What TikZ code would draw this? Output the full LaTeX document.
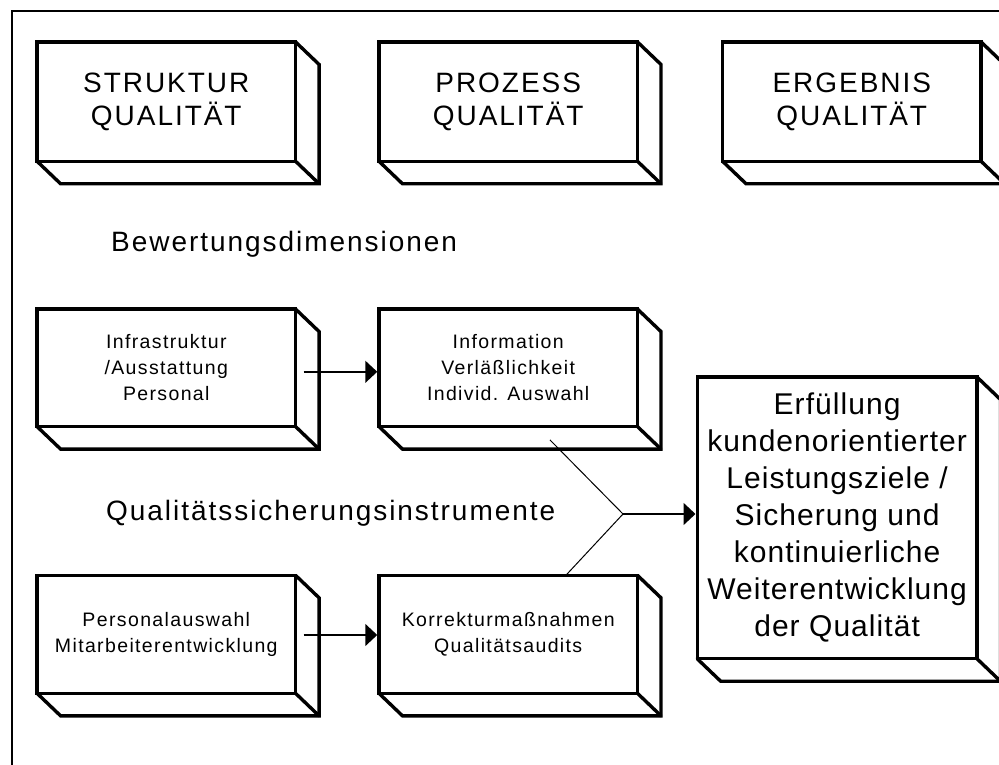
\documentclass[tikz,border=0pt]{standalone}
\usepackage{fontspec}
\setmainfont{Liberation Sans}
\newfontfamily\headfont[LetterSpace=7]{Liberation Sans}
\newfontfamily\goalfont[LetterSpace=3.5]{Liberation Sans}
\newfontfamily\cellfont[LetterSpace=7]{Liberation Sans}
\usetikzlibrary{arrows.meta,calc}

\tikzset{
  frameline/.style={line width=2.4pt, line cap=rect},
  face/.style={draw, line width=3.4pt, line join=miter, inner sep=0pt, outer sep=0pt,
    align=center, fill=white},
  edge/.style={line width=3.4pt, line join=miter, line cap=round},
  topbox/.style={face, minimum width=258.5pt, minimum height=119.3pt,
    font=\headfont\fontsize{28}{33}\selectfont},
  cellbox/.style={face, minimum width=258.5pt, minimum height=117.5pt,
    font=\cellfont\fontsize{19.5}{26}\selectfont},
  goalbox/.style={face, minimum width=279.8pt, minimum height=281.7pt,
    font=\goalfont\fontsize{30}{37}\selectfont},
  heading/.style={anchor=base west, inner sep=0pt,
    font=\headfont\fontsize{28}{33}\selectfont},
  flow/.style={line width=1.7pt, -{Triangle[length=12pt,width=22pt]}, shorten >=1.7pt},
  feed/.style={line width=1pt},
}

% side and bottom faces of a block, offset to the lower right
\newcommand\blockdepth[1]{%
  \draw[edge] (#1.north east) -- ++(23.5,22.5)
    -- ($(#1.south east)+(23.5,22.5)$)
    -- ($(#1.south west)+(23.5,22.5)$) -- (#1.south west);
  \draw[edge] (#1.south east) -- ++(23.5,22.5);}

\begin{document}
\begin{tikzpicture}[x=1pt,y=-1pt]
\useasboundingbox (0,0) rectangle (999,765);
\clip (0,0) rectangle (999,765);
\fill[white] (0,0) rectangle (999,765);

% outer frame
\draw[frameline] (11.7,800) -- (11.7,11.3) -- (1020,11.3);

% quality dimensions
\node[topbox] (struktur) at (166.3,101.6) {STRUKTUR\\QUALITÄT};
\node[topbox] (prozess)  at (508.2,101.6) {PROZESS\\QUALITÄT};
\node[topbox] (ergebnis) at (851.8,101.6) {ERGEBNIS\\QUALITÄT};
\blockdepth{struktur}
\blockdepth{prozess}
\blockdepth{ergebnis}

\node[heading] (bewertung) at (111,251.7) {Bewertungsdimensionen};

% evaluation dimensions
\node[cellbox] (infra) at (166.3,367.8) {Infrastruktur\\/Ausstattung\\Personal};
\node[cellbox] (info)  at (508.2,367.8) {Information\\Verläßlichkeit\\Individ. Auswahl};
\blockdepth{infra}
\blockdepth{info}

\node[heading] (instrumente) at (106,520) {Qualitätssicherungsinstrumente};

% quality assurance instruments
\node[cellbox, minimum height=118pt] (staff) at (166.3,634.3) {Personalauswahl\\Mitarbeiterentwicklung};
\node[cellbox, minimum height=118pt] (audit) at (508.2,634.3) {Korrekturmaßnahmen\\Qualitätsaudits};
\blockdepth{staff}
\blockdepth{audit}

% goal
\node[goalbox] (goal) at (837.1,517.9) {Erfüllung\\kundenorientierter\\Leistungsziele /\\Sicherung und\\kontinuierliche\\Weiterentwicklung\\der Qualität};
\blockdepth{goal}

% connectors
\draw[flow] ($(infra.east)+(8,4)$) -- ($(info.west)+(0,4)$);
\draw[flow] ($(staff.east)+(8,0.7)$) -- ($(audit.west)+(0,0.7)$);
\coordinate (merge) at (623,514);
\coordinate (infotail) at ($(info.south)+(41.7,13.3)$);
\coordinate (audithead) at ($(audit.north)+(57.7,0)$);
\draw[feed] (infotail) -- (merge) -- (audithead);
\draw[flow] (merge) -- (goal.west |- merge);
\end{tikzpicture}
\end{document}
